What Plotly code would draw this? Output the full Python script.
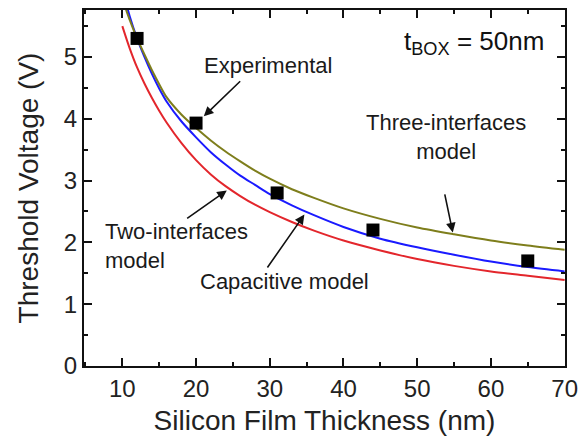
import plotly.graph_objects as go

# ---- data ----
x_model = [10, 11, 12, 13, 14, 15, 16, 18, 20, 22, 24, 26, 28, 30, 33, 36, 40, 45, 50, 55, 60, 65, 70]
v_two_interfaces = [5.50, 5.14, 4.83, 4.57, 4.34, 4.13, 3.94, 3.61, 3.33, 3.10, 2.91, 2.75, 2.61, 2.49, 2.33, 2.19, 2.03, 1.87, 1.73, 1.62, 1.53, 1.46, 1.39]
v_capacitive = [6.10, 5.66, 5.30, 5.00, 4.73, 4.49, 4.28, 3.96, 3.70, 3.46, 3.26, 3.08, 2.93, 2.78, 2.60, 2.44, 2.25, 2.06, 1.92, 1.80, 1.69, 1.60, 1.53]
v_three_interfaces = [5.94, 5.60, 5.30, 5.04, 4.79, 4.56, 4.35, 4.07, 3.85, 3.65, 3.47, 3.31, 3.16, 3.03, 2.86, 2.72, 2.55, 2.38, 2.24, 2.13, 2.03, 1.95, 1.88]

x_exp = [12, 20, 31, 44, 65]
v_exp = [5.30, 3.93, 2.80, 2.20, 1.70]

x_ticks = [10, 20, 30, 40, 50, 60, 70]
y_ticks = [0, 1, 2, 3, 4, 5]

FONT = "Arial, Liberation Sans, sans-serif"

fig = go.Figure()
fig.add_trace(go.Scatter(x=x_model, y=v_two_interfaces, mode="lines", line=dict(color="#e3262c", width=2, shape="spline", smoothing=0.8), name="Two-interfaces model"))
fig.add_trace(go.Scatter(x=x_model, y=v_capacitive, mode="lines", line=dict(color="#1a1aff", width=2, shape="spline", smoothing=0.8), name="Capacitive model"))
fig.add_trace(go.Scatter(x=x_model, y=v_three_interfaces, mode="lines", line=dict(color="#7e7e1c", width=2, shape="spline", smoothing=0.8), name="Three-interfaces model"))
fig.add_trace(go.Scatter(x=x_exp, y=v_exp, mode="markers", marker=dict(symbol="square", size=13, color="black"), name="Experimental"))

ann_font = dict(family=FONT, size=22, color="#1a1a1a")
annotations = [
    dict(x=29.8, y=4.86, text="Experimental", showarrow=False, font=ann_font),
    dict(x=53.96, y=3.70, text="Three-interfaces<br>model", showarrow=False, font=ann_font),
    dict(x=7.4, y=1.94, text="Two-interfaces<br>model", showarrow=False, font=ann_font, xanchor="left", align="left"),
    dict(x=32.06, y=1.36, text="Capacitive model", showarrow=False, font=ann_font),
    dict(x=57.7, y=5.24, text="t<sub>BOX</sub> = 50nm", showarrow=False, font=dict(family=FONT, size=26, color="#111")),
]
arrows = [
    (21.05, 4.04, 26.19, 4.63),
    (54.83, 2.16, 53.7, 2.80),
    (24.17, 2.84, 18.59, 2.37),
    (34.7, 2.45, 29.54, 1.57),
]
for hx, hy, tx, ty in arrows:
    annotations.append(dict(x=hx, y=hy, ax=tx, ay=ty, xref="x", yref="y", axref="x", ayref="y",
                            text="", showarrow=True, arrowhead=2, arrowsize=1.2, arrowwidth=1.6, arrowcolor="#111"))

axis_common = dict(
    showline=True, linecolor="#111", linewidth=2, mirror="allticks",
    ticks="inside", ticklen=8, tickwidth=2, tickcolor="#111",
    showgrid=False, zeroline=False,
    tickfont=dict(family=FONT, size=24, color="#222"),
)

fig.update_layout(
    width=586, height=446,
    margin=dict(l=84, r=16, t=8, b=80),
    paper_bgcolor="white", plot_bgcolor="white",
    showlegend=False,
    annotations=annotations,
    xaxis=dict(range=[4.8, 70.05], tickvals=x_ticks,
               minor=dict(dtick=5, tick0=0, ticks="inside", ticklen=4, tickwidth=2, tickcolor="#111"),
               title=dict(text="Silicon Film Thickness (nm)", font=dict(family=FONT, size=28, color="#222"), standoff=10),
               **axis_common),
    yaxis=dict(range=[0, 5.76], tickvals=y_ticks,
               minor=dict(dtick=0.5, tick0=0, ticks="inside", ticklen=4, tickwidth=2, tickcolor="#111"),
               title=dict(text="Threshold Voltage (V)", font=dict(family=FONT, size=28, color="#222"), standoff=17),
               **axis_common),
)

fig.write_html("out.html")
